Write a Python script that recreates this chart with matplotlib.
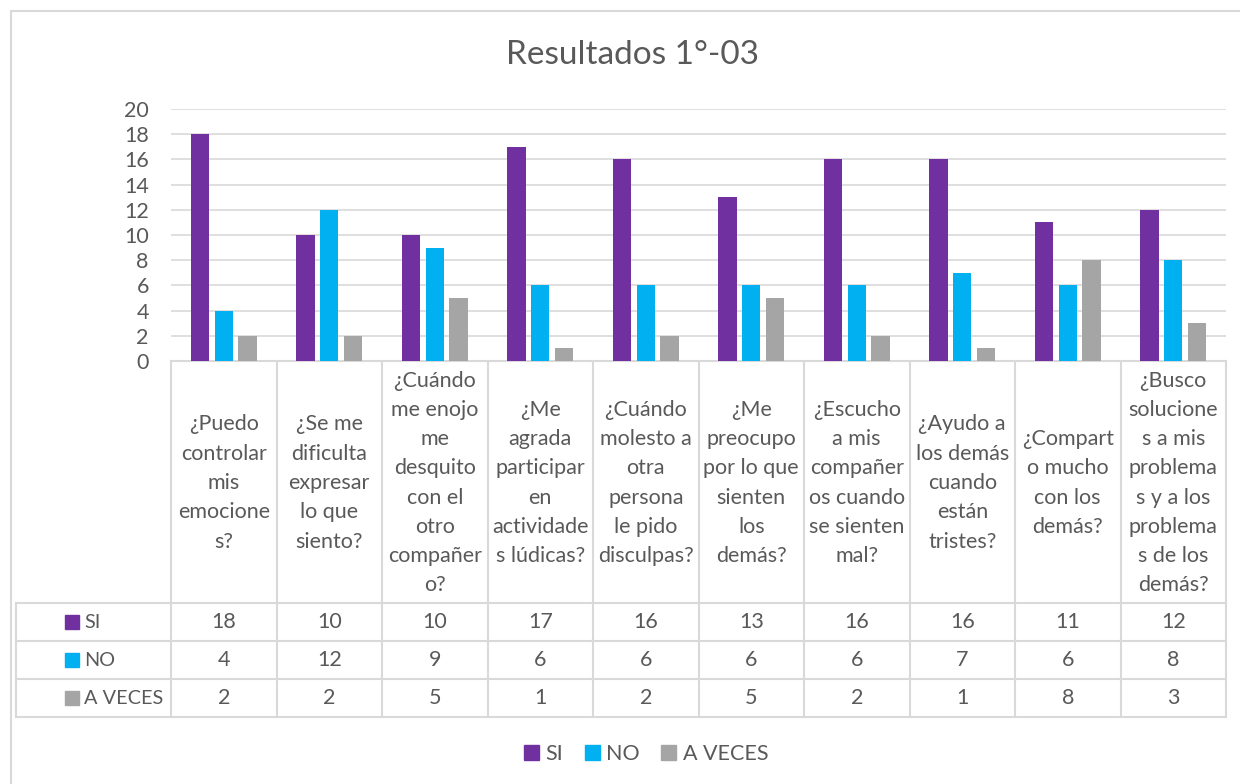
import matplotlib
matplotlib.use('Agg')
import matplotlib.pyplot as plt
from matplotlib.patches import Patch, Rectangle
import numpy as np

# data
preguntas = ['¿Puedo\ncontrolar\nmis\nemocione\ns?',
             '¿Se me\ndificulta\nexpresar\nlo que\nsiento?',
             '¿Cuándo\nme enojo\nme\ndesquito\ncon el\notro\ncompañer\no?',
             '¿Me\nagrada\nparticipar\nen\nactividade\ns lúdicas?',
             '¿Cuándo\nmolesto a\notra\npersona\nle pido\ndisculpas?',
             '¿Me\npreocupo\npor lo que\nsienten\nlos\ndemás?',
             '¿Escucho\na mis\ncompañer\nos cuando\nse sienten\nmal?',
             '¿Ayudo a\nlos demás\ncuando\nestán\ntristes?',
             '¿Compart\no mucho\ncon los\ndemás?',
             '¿Busco\nsolucione\ns a mis\nproblema\ns y a los\nproblema\ns de los\ndemás?']
si = [18, 10, 10, 17, 16, 13, 16, 16, 11, 12]
no = [4, 12, 9, 6, 6, 6, 6, 7, 6, 8]
a_veces = [2, 2, 5, 1, 2, 5, 2, 1, 8, 3]
series = ['SI', 'NO', 'A VECES']
colores = ['#7030A0', '#00B0F0', '#A5A5A5']

plt.rcParams['font.family'] = ['Lato', 'DejaVu Sans']
txt = '#595959'
grid = '#D9D9D9'
W, H = 1240, 784
fs = 15.5


def box(x0, y0, x1, y1):
    # pixel box (top-left origin) -> figure rect
    return [x0 / W, 1 - y1 / H, (x1 - x0) / W, (y1 - y0) / H]


fig = plt.figure(figsize=(12.4, 7.84), dpi=100)
fig.patches.append(Rectangle((11 / W, -0.1), 1.2, 1 - 11 / H + 0.1, transform=fig.transFigure,
                             fill=False, edgecolor=grid, linewidth=1.5))

fig.text(633 / W, 1 - 55 / H, 'Resultados 1°-03', ha='center', va='center', fontsize=24, color=txt)

# bar chart
ax = fig.add_axes(box(171, 109, 1226, 361))
x = np.arange(len(si))
w = 0.175
off = 0.223
for i, (vals, c) in enumerate(zip([si, no, a_veces], colores)):
    ax.bar(x + (i - 1) * off, vals, w, color=c, zorder=3)
ax.set_xlim(-0.5, len(si) - 0.5)
ax.set_ylim(0, 20)
ax.set_yticks(range(0, 21, 2))
ax.set_xticks([])
ax.tick_params(axis='y', length=0, labelsize=fs, labelcolor=txt, pad=16)
ax.grid(axis='y', color=grid, linewidth=1.2, zorder=0)
for s in ['top', 'right', 'left']:
    ax.spines[s].set_visible(False)
ax.spines['bottom'].set_color(grid)
ax.spines['bottom'].set_linewidth(1.5)
for lab in ax.get_yticklabels():
    lab.set_ha('right')

# data table under the chart
tab = fig.add_axes(box(16, 361, 1226, 717))
cw = 105.5
x_left = -0.5 - 155 / cw
tab.set_xlim(x_left, len(si) - 0.5)
tab.set_ylim(356, 0)
tab.axis('off')
rows = [0, 242, 280, 318, 356]
lk = dict(color=grid, linewidth=1.5, clip_on=False)
for r in rows[1:]:
    tab.plot([x_left, len(si) - 0.5], [r, r], **lk)
tab.plot([x_left, x_left], [rows[1], rows[-1]], **lk)
for k in range(len(si) + 1):
    tab.plot([k - 0.5, k - 0.5], [0, rows[-1]], **lk)

for k, q in enumerate(preguntas):
    tab.text(k, 122, q, ha='center', va='center', fontsize=fs, color=txt,
             linespacing=1.58, multialignment='center')

for j, (name, vals, c) in enumerate(zip(series, [si, no, a_veces], colores)):
    yc = (rows[j + 1] + rows[j + 2]) / 2
    for k, v in enumerate(vals):
        tab.text(k, yc, str(v), ha='center', va='center', fontsize=fs, color=txt)
    tab.add_patch(Rectangle((x_left + 49 / cw, yc - 7), 14 / cw, 14, color=c))
    tab.text(x_left + 68 / cw, yc, name, ha='left', va='center', fontsize=14.3, color=txt)

handles = [Patch(color=c, label=n) for n, c in zip(series, colores)]
fig.legend(handles=handles, loc='center', bbox_to_anchor=(646 / W, 1 - 754 / H), ncol=3,
           frameon=False, fontsize=fs, labelcolor=txt, handlelength=0.7, handleheight=0.7,
           handletextpad=0.3, columnspacing=1.0)

fig.savefig('out.png', dpi=100)
